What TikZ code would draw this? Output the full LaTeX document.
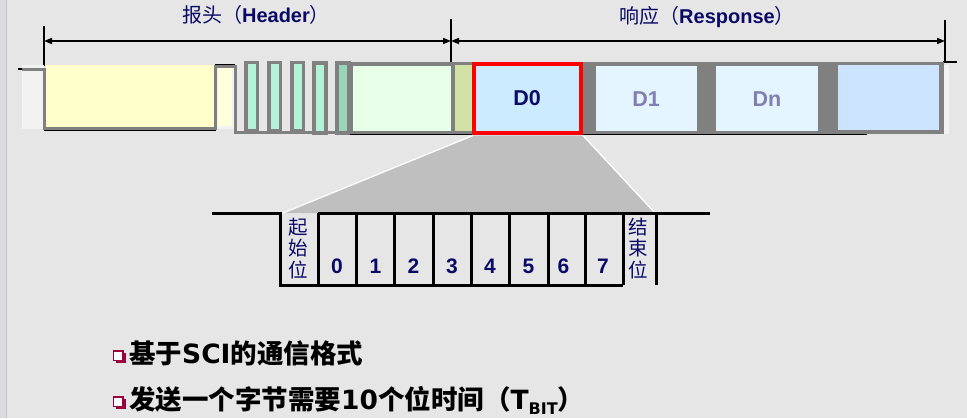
\documentclass[tikz,border=0pt]{standalone}
\usepackage{fontspec}
\setmainfont{Liberation Sans}
\newfontfamily\cjk{Noto Sans CJK SC}
\newfontfamily\wide{DejaVu Sans}
\usetikzlibrary{arrows.meta}
\definecolor{bg}{HTML}{E6E6E6}
\definecolor{edgecol}{HTML}{DADAE0}
\definecolor{edgeline}{HTML}{C4C4CA}
\definecolor{txtnavy}{HTML}{0A0A66}
\definecolor{dimtxt}{HTML}{7F7FB2}
\definecolor{wavegray}{HTML}{808080}
\definecolor{palegray}{HTML}{F2F2F2}
\definecolor{yel}{HTML}{FFFFCC}
\definecolor{pulsegreen}{HTML}{B3F2D9}
\definecolor{pulsedark}{HTML}{99D6B8}
\definecolor{lgreen}{HTML}{E6FFE6}
\definecolor{olive}{HTML}{D2E1A5}
\definecolor{dzero}{HTML}{CCEBFF}
\definecolor{dpale}{HTML}{E5F5FF}
\definecolor{dlast}{HTML}{CCE4FF}
\definecolor{zoomgray}{HTML}{BFBFBF}
\definecolor{bulletred}{HTML}{99003D}
\begin{document}
\begin{tikzpicture}[x=1pt,y=-1pt,
  wave/.style={draw=wavegray,line width=3pt},
  pulse/.style={draw=wavegray,line width=3.5pt,fill=pulsegreen},
  tick/.style={line width=2.5pt,black},
  dim/.style={line width=1.6pt,black,{Triangle[length=8pt,width=6pt]}-{Triangle[length=8pt,width=6pt]}},
  lbl/.style={inner sep=0pt,text=txtnavy,font=\fontsize{20}{22}\selectfont},
  dlabel/.style={inner sep=0pt,font=\bfseries\fontsize{21.5}{22}\selectfont},
  bitline/.style={line width=3pt,black},
  bitnum/.style={inner sep=0pt,text=txtnavy,font=\bfseries\fontsize{21}{21}\selectfont},
  vtext/.style={inner sep=0pt,text=txtnavy,align=center,font=\cjk\fontsize{19.5}{21.5}\selectfont},
  bullettxt/.style={inner sep=0pt,anchor=west,text=black,font=\bfseries\fontsize{26.5}{28}\selectfont},
]
\useasboundingbox (0,0) rectangle (967,418);
\fill[bg] (0,0) rectangle (967,418);
\fill[edgecol] (0,0) rectangle (6,418);
\draw[edgeline,line width=1pt] (6.5,0) -- (6.5,418);

% ---- dimension lines ----
\coordinate (hL) at (44,41);
\coordinate (hM) at (451,41);
\coordinate (hR) at (945,41);
\draw[tick] (44,26) -- (44,66);
\draw[tick] (451,19) -- (451,63);
\draw[tick] (945,20) -- (945,63);
\draw[black,line width=2pt] (943,62) -- (957,62);
\draw[dim] (hL) -- (hM);
\draw[dim] (hM) -- (hR);
\node[lbl] (hdr) at (256,15) {{\cjk 报头（}\textbf{Header}{\cjk ）}};
\node[lbl] (rsp) at (707,17) {{\cjk 响应（}\textbf{Response}{\cjk ）}};

% ---- header waveform ----
\fill[palegray] (22,65) rectangle (44,129);
\fill[yel] (46,65) rectangle (214,127);
\fill[palegray] (217,65) rectangle (234,129);
\fill[yel!70!white] (218,65) rectangle (232,126);
\draw[black,line width=2pt] (18,69) -- (23,69);
\draw[black,line width=1.2pt] (44,130) -- (216,130);
\draw[black,line width=1.5pt] (215,64.5) -- (235,64.5);
\draw[wave] (22,69) -- (44,69) -- (44,128) -- (215,128) -- (215,66) -- (235,66) -- (235,132) -- (350,132);
\draw[pulse] (246,62.5) rectangle (257.5,131);
\draw[pulse] (269,62.5) rectangle (280.5,131);
\draw[pulse] (292,62.5) rectangle (303.5,131);
\draw[pulse] (314,63) rectangle (326,133);
\draw[pulse,fill=pulsedark] (337,63) rectangle (349,133);

% ---- response band ----
\fill[wavegray] (350,62) rectangle (944,134);
\fill[lgreen] (353,65.5) rectangle (451,131);
\fill[olive] (455,65) rectangle (472,131);
\fill[dpale] (596,66) rectangle (697,131);
\fill[dpale] (716,66) rectangle (818,131);
\fill[dlast] (838,65) rectangle (939,130);
\fill[palegray] (944,65) rectangle (949,134);
\draw[black,line width=1.2pt] (350,134.5) -- (867,134.5);
\node[draw=red,line width=4pt,fill=dzero,minimum width=107pt,minimum height=69pt,inner sep=0pt] (d0) at (527.5,98.5) {};
\node[dlabel,text=txtnavy] (d0t) at (527,98) {D0};
\node[dlabel,text=dimtxt] (d1t) at (646,99) {D1};
\node[dlabel,text=dimtxt] (dnt) at (767,99) {Dn};

% ---- zoom wedge ----
\coordinate (zl) at (473,135.5);
\coordinate (zr) at (583,135.5);
\coordinate (bl) at (283,213);
\coordinate (br) at (655,213);
\fill[zoomgray] (zl) -- (zr) -- (br) -- (bl) -- cycle;
\draw[white,line width=1.3pt] (zl) -- (bl);
\draw[white,line width=1.3pt] (zr) -- (br);

% ---- bit frame ----
\draw[bitline] (212,213) -- (280,213) -- (280,285) -- (623,285);
\draw[bitline] (318,213) -- (710,213);
\foreach \x in {318,356,394,433,471,509,548,585,623,656}
  \draw[bitline] (\x,213) -- (\x,285);
\node[vtext] (startbit) at (298,248.5) {起\\始\\位};
\node[vtext] (stopbit) at (638,248.5) {结\\束\\位};
\node[bitnum] (b0) at (337,266) {0};
\node[bitnum] (b1) at (375.5,266) {1};
\node[bitnum] (b2) at (413.5,266) {2};
\node[bitnum] (b3) at (452,266) {3};
\node[bitnum] (b4) at (490,266) {4};
\node[bitnum] (b5) at (528.5,266) {5};
\node[bitnum] (b6) at (563.5,266) {6};
\node[bitnum] (b7) at (603,266) {7};

% ---- bullets ----
\foreach \yy in {351,397}{
  \draw[bulletred,line width=2.2pt] (115.5,\yy+11) -- (125,\yy+11) -- (125,\yy+2);
  \draw[bulletred,line width=1.3pt,fill=white] (113.5,\yy) rectangle (123,\yy+9.5);
}
\node[bullettxt] (l1) at (129,353) {{\cjk 基于}{\wide SCI}{\cjk 的通信格式}};
\node[bullettxt] (l2) at (129,400) {{\cjk 发送一个字节需要}{\wide 10}{\cjk 个位时间（}{\wide T\raisebox{-0.35ex}{\fontsize{16}{16}\selectfont BIT}}{\cjk ）}};
\end{tikzpicture}
\end{document}
